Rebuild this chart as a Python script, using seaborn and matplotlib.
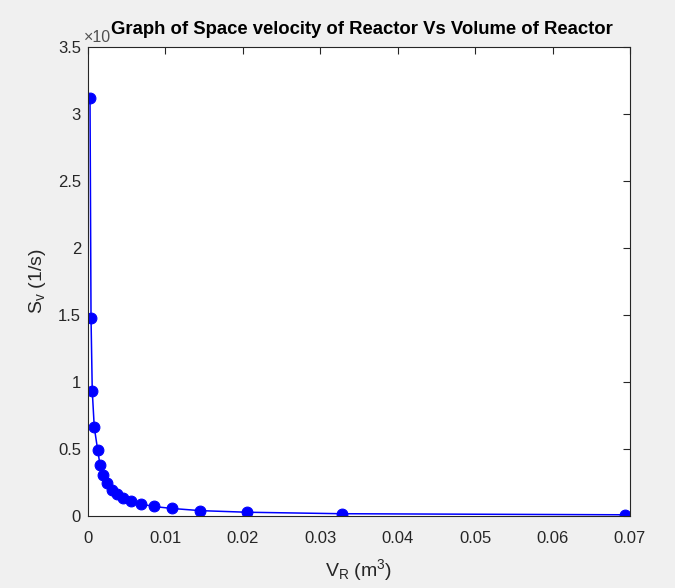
import matplotlib
matplotlib.use("Agg")
import matplotlib.pyplot as plt
import seaborn as sns
import pandas as pd

# Data (y in units of the hidden x10^n factor)
volume_m3 = [0.00026, 0.00039, 0.00055, 0.00081, 0.00125, 0.00155, 0.0019, 0.0024,
             0.00305, 0.0037, 0.00447, 0.0055, 0.00683, 0.00847, 0.0109, 0.01452,
             0.02058, 0.0328, 0.0694]
space_velocity = [3.12, 1.48, 0.933, 0.662, 0.493, 0.381, 0.306, 0.246,
                  0.194, 0.164, 0.134, 0.114, 0.090, 0.071, 0.056, 0.040,
                  0.028, 0.017, 0.009]
x_ticks = [0, 0.01, 0.02, 0.03, 0.04, 0.05, 0.06, 0.07]
x_tick_labels = ["0", "0.01", "0.02", "0.03", "0.04", "0.05", "0.06", "0.07"]
y_ticks = [0, 0.5, 1, 1.5, 2, 2.5, 3, 3.5]
y_tick_labels = ["0", "0.5", "1", "1.5", "2", "2.5", "3", "3.5"]

df = pd.DataFrame({"V": volume_m3, "S": space_velocity})

sns.set_theme(style="white")
plt.rcParams["font.family"] = ["Liberation Sans", "DejaVu Sans"]
plt.rcParams["mathtext.fontset"] = "custom"
plt.rcParams["mathtext.rm"] = "Liberation Sans"
plt.rcParams["mathtext.it"] = "Liberation Sans"

fig = plt.figure(figsize=(6.75, 5.88), dpi=100, facecolor="#f0f0f0")
ax = fig.add_axes([88/675, 1 - 516/588, (630-88)/675, (516-47)/588])
ax.set_facecolor("white")

sns.lineplot(data=df, x="V", y="S", ax=ax, color="#0000ff", linewidth=1.1,
             marker="o", markersize=7.8, markeredgecolor="#0000ff",
             markerfacecolor="#0000ff", sort=False)

ax.set_xlim(0, 0.07)
ax.set_ylim(0, 3.5)
ax.set_xticks(x_ticks)
ax.set_xticklabels(x_tick_labels)
ax.set_yticks(y_ticks)
ax.set_yticklabels(y_tick_labels)
ax.tick_params(direction="in", length=5, width=0.8, colors="#262626",
               labelsize=12, top=True, right=True)
ax.tick_params(axis="x", pad=11)
ax.tick_params(axis="y", pad=5)
for sp in ax.spines.values():
    sp.set_color("#262626")
    sp.set_linewidth(0.8)

ax.set_xlabel(r"V$_{\mathrm{R}}$ (m$^{3}$)", fontsize=14, color="#262626", labelpad=8)
ax.set_ylabel(r"S$_{\mathrm{v}}$ (1/s)", fontsize=14, color="#262626", labelpad=7)

fig.text(84/675, 1 - 37/588, "×10", fontsize=11.5, color="#505050",
         ha="left", va="center")
fig.text(362/675, 1 - 30/588, "Graph of Space velocity of Reactor Vs Volume of Reactor",
         fontsize=13.3, fontweight="bold", color="#000000", ha="center", va="center")

fig.savefig("out.png", dpi=100, facecolor=fig.get_facecolor())
